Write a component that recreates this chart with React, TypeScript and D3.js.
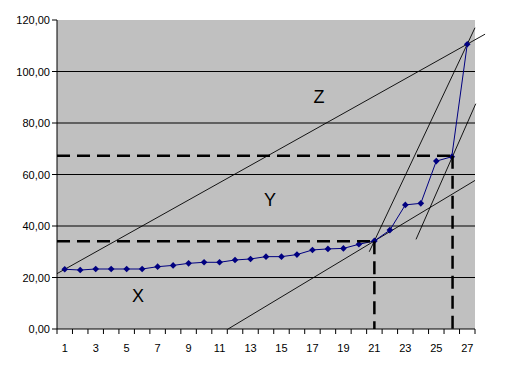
import React, { useEffect, useRef } from 'react';
import * as d3 from 'd3';

// categories 1..27 and the measured series
const categories = d3.range(1, 28);
const values = [
  23.2, 22.9, 23.3, 23.3, 23.3, 23.3, 24.2, 24.7, 25.5, 25.9, 25.9, 26.8, 27.2, 28.1,
  28.1, 28.9, 30.7, 31.1, 31.3, 32.9, 34.2, 38.4, 48.2, 48.8, 65.2, 66.9, 110.6,
];
const yTicks = [0, 20, 40, 60, 80, 100, 120];
const xTickLabels = [1, 3, 5, 7, 9, 11, 13, 15, 17, 19, 21, 23, 25, 27];

// thin helper lines, [category position, value] endpoints
const helperLines: [number, number][][] = [
  [[0.5, 21.5], [28.15, 114.5]],
  [[20.67, 30.0], [27.5, 117]],
  [[11.55, 0], [27.5, 57.7]],
  [[23.69, 34.8], [27.55, 87.5]],
];
// thick dashed guides
const dashedLines: [number, number][][] = [
  [[0.5, 34.1], [21, 34.1]],
  [[21, 34.1], [21, 0]],
  [[0.5, 67.3], [26.05, 67.3]],
  [[26.05, 67.3], [26.05, 0]],
];
const zoneLabels = [
  { text: 'Z', c: 17.43, v: 90 },
  { text: 'Y', c: 14.26, v: 50 },
  { text: 'X', c: 5.73, v: 12.8 },
];

function Chart() {
  const svgRef = useRef<SVGSVGElement>(null);

  useEffect(() => {
    const svg = d3.select(svgRef.current);
    svg.selectAll('*').remove();

    const left = 57, right = 475, top = 20, bottom = 329;
    const font = 'Arial, "Liberation Sans", sans-serif';

    const x = d3.scaleLinear().domain([0.5, 27.5]).range([left, right]);
    const y = d3.scaleLinear().domain([0, 120]).range([bottom, top]);

    svg.append('rect')
      .attr('x', left).attr('y', top)
      .attr('width', right - left).attr('height', bottom - top)
      .attr('fill', '#c0c0c0');

    // gridlines
    svg.selectAll('.grid')
      .data(yTicks.filter(t => t > 0 && t < 120))
      .enter().append('line')
      .attr('x1', left).attr('x2', right)
      .attr('y1', d => y(d)).attr('y2', d => y(d))
      .attr('stroke', '#000').attr('stroke-width', 1);

    const line = d3.line<[number, number]>().x(d => x(d[0])).y(d => y(d[1]));

    svg.selectAll('.helper')
      .data(helperLines)
      .enter().append('path')
      .attr('d', d => line(d))
      .attr('stroke', '#000').attr('stroke-width', 0.9).attr('fill', 'none');

    // series
    const pts: [number, number][] = categories.map((c, i) => [c, values[i]]);
    svg.append('path')
      .attr('d', line(pts))
      .attr('stroke', '#000080').attr('stroke-width', 1).attr('fill', 'none');
    svg.selectAll('.marker')
      .data(pts)
      .enter().append('path')
      .attr('d', d3.symbol(d3.symbolSquare, 22)())
      .attr('transform', d => `translate(${x(d[0])},${y(d[1])}) rotate(45)`)
      .attr('fill', '#000080');

    svg.selectAll('.dash')
      .data(dashedLines)
      .enter().append('path')
      .attr('d', d => line(d))
      .attr('stroke', '#000').attr('stroke-width', 2.5)
      .attr('stroke-dasharray', '13,7').attr('fill', 'none');

    // axes
    svg.append('line')
      .attr('x1', left).attr('x2', left).attr('y1', top).attr('y2', bottom)
      .attr('stroke', '#000');
    svg.append('line')
      .attr('x1', left).attr('x2', right).attr('y1', bottom).attr('y2', bottom)
      .attr('stroke', '#000');

    svg.selectAll('.ytick')
      .data(yTicks)
      .enter().append('line')
      .attr('x1', left - 5).attr('x2', left)
      .attr('y1', d => y(d)).attr('y2', d => y(d))
      .attr('stroke', '#000');
    svg.selectAll('.ylab')
      .data(yTicks)
      .enter().append('text')
      .attr('x', left - 7).attr('y', d => y(d) + 4)
      .attr('text-anchor', 'end')
      .attr('font-family', font).attr('font-size', 11)
      .text(d => d3.format('.2f')(d).replace('.', ','));

    svg.selectAll('.xtick')
      .data(d3.range(0, 28).map(i => i + 0.5))
      .enter().append('line')
      .attr('x1', d => x(d)).attr('x2', d => x(d))
      .attr('y1', bottom).attr('y2', bottom + 5)
      .attr('stroke', '#000');
    svg.selectAll('.xlab')
      .data(xTickLabels)
      .enter().append('text')
      .attr('x', d => x(d)).attr('y', bottom + 23)
      .attr('text-anchor', 'middle')
      .attr('font-family', font).attr('font-size', 11)
      .text(d => d);

    svg.selectAll('.zone')
      .data(zoneLabels)
      .enter().append('text')
      .attr('x', d => x(d.c)).attr('y', d => y(d.v))
      .attr('text-anchor', 'middle').attr('dominant-baseline', 'central')
      .attr('font-family', font).attr('font-size', 18)
      .text(d => d.text);
  }, []);

  return <svg ref={svgRef} width={508} height={370} style={{ display: 'block' }}></svg>;
}

export default function App() {
  return (
    <div style={{ position: 'absolute', left: 0, top: 0, background: '#fff' }}>
      <Chart />
    </div>
  );
}
